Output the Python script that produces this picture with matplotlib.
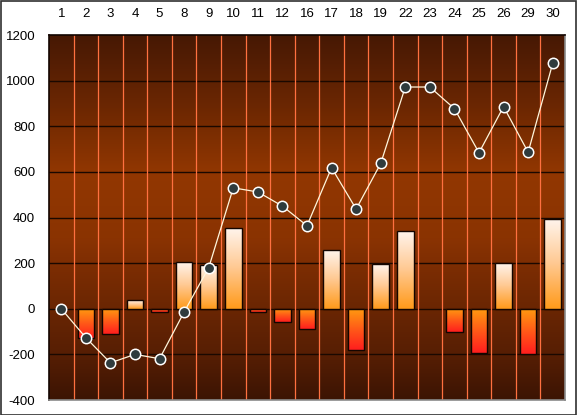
import numpy as np
import matplotlib
matplotlib.use("Agg")
import matplotlib.pyplot as plt
from matplotlib.colors import LinearSegmentedColormap
from matplotlib.patches import Rectangle

categories = ["1", "2", "3", "4", "5", "8", "9", "10", "11", "12", "16", "17",
              "18", "19", "22", "23", "24", "25", "26", "29", "30"]
bar_values = [0, -130, -112, 37, -15, 203, 190, 352, -14, -58, -90, 256,
              -182, 195, 339, 0, -101, -193, 199, -200, 392]
line_values = [0, -127, -237, -200, -219, -14, 180, 530, 512, 450, 364, 618,
               437, 637, 972, 972, 877, 684, 886, 686, 1076]
y_ticks = [-400, -200, 0, 200, 400, 600, 800, 1000, 1200]

plt.rcParams['font.family'] = ['Liberation Sans', 'DejaVu Sans']

fig = plt.figure(figsize=(5.77, 4.15), dpi=100)
ax = fig.add_axes([49/577, 15/415, 516/577, 365/415])

n = len(categories)
x = np.arange(n)
ax.set_xlim(-0.5, n - 0.5)
ax.set_ylim(-400, 1200)

# background gradient
bg = LinearSegmentedColormap.from_list("bg", [
    (0.0, "#3c1403"), (0.12, "#561e04"), (0.35, "#7a2c02"), (0.44, "#8a3302"),
    (0.62, "#923701"), (0.8, "#6c2702"), (1.0, "#461804")])
grad = np.linspace(1, 0, 256).reshape(-1, 1)
ax.imshow(grad, cmap=bg, aspect="auto", extent=[-0.5, n - 0.5, -400, 1200],
          zorder=0, origin="upper", vmin=0, vmax=1)

# grid lines
for yt in y_ticks[1:-1]:
    ax.axhline(yt, color="#1a0800", lw=1.0, zorder=1)
for i in range(1, n):
    ax.axvline(i - 0.5, color="#ff7040", lw=0.9, zorder=1)

pos_cmap = LinearSegmentedColormap.from_list("pos", ["#ff9a1a", "#ffc890", "#fff4ec"])
neg_cmap = LinearSegmentedColormap.from_list("neg", ["#ff1e1e", "#ff5a18", "#ff9c10"])

width = 0.68
bars = ax.bar(x, bar_values, width=width, color="none", edgecolor="#140500",
              lw=1.0, zorder=3)
for xi, v, b in zip(x, bar_values, bars):
    if v == 0:
        b.set_visible(False)
        continue
    cm = pos_cmap if v > 0 else neg_cmap
    g = np.linspace(1, 0, 128).reshape(-1, 1)
    lo, hi = (0, v) if v > 0 else (v, 0)
    im = ax.imshow(g, cmap=cm, aspect="auto",
                   extent=[xi - width / 2, xi + width / 2, lo, hi],
                   zorder=2, origin="upper", vmin=0, vmax=1)
    im.set_clip_path(b)

ax.set_xlim(-0.5, n - 0.5)
ax.set_ylim(-400, 1200)

ax.plot(x, line_values, color="#fff6dc", lw=0.9, zorder=4,
        marker="o", markersize=7.5, markerfacecolor="#2f3b3d",
        markeredgecolor="#ffffff", markeredgewidth=1.1)

ax.set_yticks(y_ticks)
ax.set_yticklabels([str(t) for t in y_ticks], fontsize=9.5)
ax.set_xticks(x)
ax.set_xticklabels(categories, fontsize=9.5)
ax.xaxis.tick_top()
ax.tick_params(axis="x", length=0, pad=11)
ax.tick_params(axis="y", length=0, pad=10)
for s in ["left", "top"]:
    ax.spines[s].set_color("#120400")
    ax.spines[s].set_linewidth(1.2)
for s in ["right", "bottom"]:
    ax.spines[s].set_color("#8a8a8a")
    ax.spines[s].set_linewidth(1.2)

fig.patches.append(Rectangle((0.5/577, 0.5/415), 1 - 1.5/577, 1 - 1.5/415,
                             transform=fig.transFigure, fill=False,
                             edgecolor="#303030", lw=1.2))

fig.savefig("out.png", dpi=100)
